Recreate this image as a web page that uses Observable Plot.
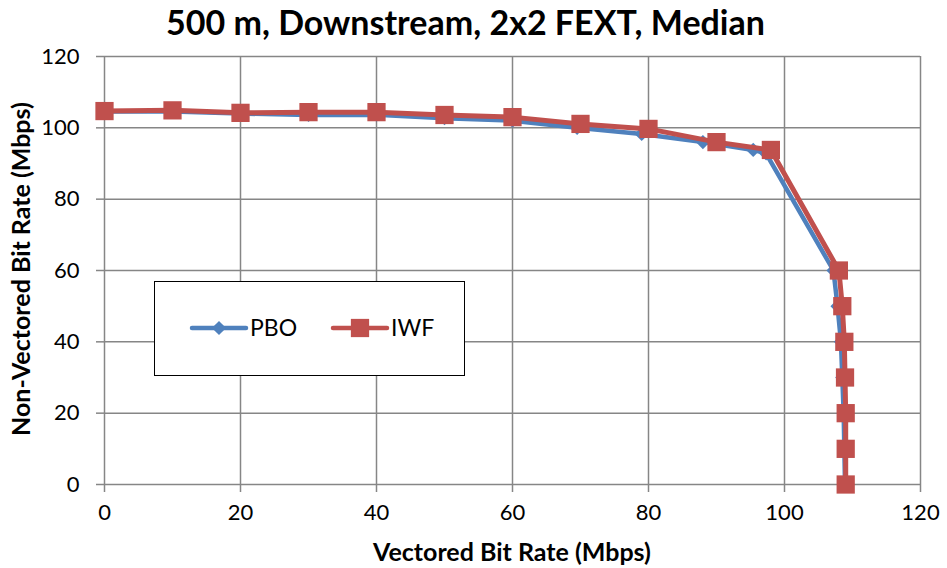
<!DOCTYPE html>
<html>
<head>
<meta charset="utf-8">
<script src="https://cdn.jsdelivr.net/npm/d3@7"></script>
<script src="https://cdn.jsdelivr.net/npm/@observablehq/plot@0.6"></script>
<style>
  html, body { margin: 0; padding: 0; background: #fff; }
  #wrap { position: relative; width: 947px; height: 568px; font-family: Lato, "Open Sans", sans-serif; }
  #title { position: absolute; left: -8px; width: 947px; top: 2px; text-align: center; font-weight: bold; font-size: 34px; line-height: 40px; color: #000; }
  #xlabel { position: absolute; left: 104px; width: 816px; top: 536px; text-align: center; font-weight: bold; font-size: 25px; line-height: 30px; color: #000; }
  #ylabel { position: absolute; left: 20px; top: 269px; transform: translate(-50%, -50%) rotate(-90deg); white-space: nowrap; font-weight: bold; font-size: 25px; line-height: 30px; color: #000; }
  #legend { position: absolute; left: 154px; top: 281px; width: 309px; height: 93px; border: 1.5px solid #000; background: #fff; }
  #chart svg { display: block; }
</style>
</head>
<body>
<div id="wrap">
  <div id="chart"></div>
  <div id="title"></div>
  <div id="xlabel"></div>
  <div id="ylabel"></div>
  <div id="legend"></div>
</div>
<script>
const titleText = "500 m, Downstream, 2x2 FEXT, Median";
const xLabel = "Vectored Bit Rate (Mbps)";
const yLabel = "Non-Vectored Bit Rate (Mbps)";
const seriesNames = ["PBO", "IWF"];
const seriesColors = ["#4F81BD", "#C0504D"];
const xTicks = [0, 20, 40, 60, 80, 100, 120];
const yTicks = [0, 20, 40, 60, 80, 100, 120];

const pboX = [0, 10, 20, 30, 40, 50, 60, 69.5, 79, 88, 95.4, 97.3, 107.2, 107.8, 108.3, 108.5, 108.7, 108.8, 108.9];
const pboY = [104.6, 104.6, 104.0, 103.6, 103.7, 102.7, 102.0, 100.0, 98.3, 96.0, 93.8, 92.8, 60, 50, 40, 30, 20, 10, 0];
const iwfX = [0, 10, 20, 30, 40, 50, 60, 70, 80, 90, 98, 108, 108.5, 108.8, 108.9, 109, 109, 109];
const iwfY = [104.7, 104.9, 104.2, 104.4, 104.4, 103.6, 103.0, 101.1, 99.7, 96.0, 93.8, 60, 50, 40, 30, 20, 10, 0];

const pbo = pboX.map((x, i) => ({x, y: pboY[i]}));
const iwf = iwfX.map((x, i) => ({x, y: iwfY[i]}));

const gridColor = "#868686";
const font = "Lato, 'Open Sans', sans-serif";

const plot = Plot.plot({
  width: 947,
  height: 568,
  marginTop: 56,
  marginLeft: 104,
  marginRight: 27,
  marginBottom: 84,
  style: {fontFamily: font, background: "#fff", overflow: "visible"},
  x: {domain: [0, 120]},
  y: {domain: [0, 120]},
  marks: [
    Plot.gridX(xTicks, {stroke: gridColor, strokeOpacity: 1, strokeWidth: 1.5}),
    Plot.gridY(yTicks, {stroke: gridColor, strokeOpacity: 1, strokeWidth: 1.5}),
    Plot.axisX(xTicks, {tickSize: 8, tickPadding: 12, stroke: gridColor, strokeWidth: 1.5, fontSize: 22, fill: "#000", label: null, tickFormat: d => String(d)}),
    Plot.axisY(yTicks, {tickSize: 8, tickPadding: 17, stroke: gridColor, strokeWidth: 1.5, fontSize: 22, fill: "#000", label: null, tickFormat: d => String(d)}),
    Plot.line(pbo, {x: "x", y: "y", stroke: seriesColors[0], strokeWidth: 4.5, strokeLinejoin: "round", strokeLinecap: "round"}),
    Plot.dot(pbo, {x: "x", y: "y", symbol: "diamond2", r: 6.4, fill: seriesColors[0], stroke: "none"}),
    Plot.line(iwf, {x: "x", y: "y", stroke: seriesColors[1], strokeWidth: 5, strokeLinejoin: "round", strokeLinecap: "round"}),
    Plot.dot(iwf, {x: "x", y: "y", symbol: "square", r: 10.3, fill: seriesColors[1], stroke: "none"})
  ]
});
document.getElementById("chart").appendChild(plot);
document.getElementById("title").textContent = titleText;
document.getElementById("xlabel").textContent = xLabel;
document.getElementById("ylabel").textContent = yLabel;

// legend
const lg = d3.select("#legend").append("svg").attr("width", 309).attr("height", 93).style("display", "block");
const items = [
  {name: seriesNames[0], color: seriesColors[0], x0: 37, sym: d3.symbolDiamond2, size: Math.PI * 6.4 * 6.4},
  {name: seriesNames[1], color: seriesColors[1], x0: 178, sym: d3.symbolSquare, size: Math.PI * 10.3 * 10.3}
];
const cy = 46;
items.forEach(it => {
  lg.append("line").attr("x1", it.x0).attr("x2", it.x0 + 54).attr("y1", cy).attr("y2", cy)
    .attr("stroke", it.color).attr("stroke-width", 4.5).attr("stroke-linecap", "round");
  lg.append("path").attr("d", d3.symbol(it.sym, it.size)()).attr("transform", `translate(${it.x0 + 27},${cy})`).attr("fill", it.color);
  lg.append("text").attr("x", it.x0 + 58).attr("y", cy).attr("dy", "0.36em").attr("font-size", 23)
    .attr("font-family", font).attr("fill", "#000").text(it.name);
});
</script>
</body>
</html>
